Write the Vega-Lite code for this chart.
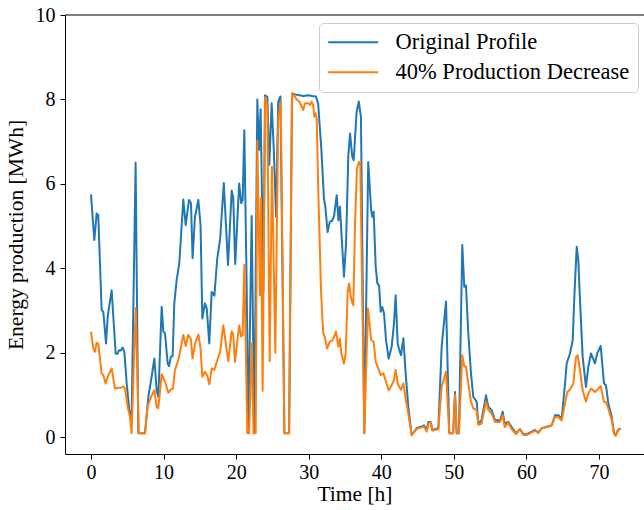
{
  "$schema": "https://vega.github.io/schema/vega-lite/v6.json",
  "width": 579,
  "height": 439,
  "autosize": {"type": "none"},
  "padding": {"left": 65, "top": 15, "right": 0, "bottom": 56},
  "background": "white",
  "config": {
    "view": {"stroke": null},
    "font": "Liberation Serif",
    "axis": {
      "grid": false,
      "domainColor": "black",
      "domainWidth": 1,
      "tickColor": "black",
      "tickWidth": 1,
      "tickSize": 5,
      "labelFont": "Liberation Serif",
      "labelFontSize": 20,
      "labelColor": "black",
      "labelFlush": false,
      "labelOverlap": false,
      "titleFont": "Liberation Serif",
      "titleFontSize": 21.5,
      "titleFontWeight": "normal",
      "titleColor": "black"
    }
  },
  "datasets": {
    "orig": [
      {"t": 0, "v": 5.75}, {"t": 0.46, "v": 4.67}, {"t": 0.78, "v": 5.3}, {"t": 1.0, "v": 5.26},
      {"t": 1.47, "v": 3.01}, {"t": 1.7, "v": 2.97}, {"t": 2.07, "v": 2.22}, {"t": 2.3, "v": 2.85},
      {"t": 2.85, "v": 3.48}, {"t": 3.4, "v": 1.98}, {"t": 3.63, "v": 1.97}, {"t": 3.86, "v": 2.06},
      {"t": 4.1, "v": 2.05}, {"t": 4.37, "v": 2.12}, {"t": 4.6, "v": 2.02}, {"t": 4.92, "v": 1.27},
      {"t": 5.28, "v": 0.64}, {"t": 5.6, "v": 0.48}, {"t": 6.15, "v": 6.5}, {"t": 6.52, "v": 0.09},
      {"t": 7.44, "v": 0.09}, {"t": 7.9, "v": 0.95}, {"t": 8.36, "v": 1.43}, {"t": 8.73, "v": 1.86},
      {"t": 9.05, "v": 1.11}, {"t": 9.28, "v": 0.95}, {"t": 9.74, "v": 3.09}, {"t": 9.97, "v": 2.5},
      {"t": 10.2, "v": 2.46}, {"t": 10.56, "v": 1.75}, {"t": 10.75, "v": 1.68}, {"t": 11.0, "v": 1.9},
      {"t": 11.25, "v": 1.92}, {"t": 11.48, "v": 3.17}, {"t": 11.8, "v": 3.72}, {"t": 12.17, "v": 4.12},
      {"t": 12.72, "v": 5.63}, {"t": 13.05, "v": 5.02}, {"t": 13.5, "v": 5.62}, {"t": 13.78, "v": 5.54},
      {"t": 14.0, "v": 4.24}, {"t": 14.33, "v": 5.22}, {"t": 14.79, "v": 5.62}, {"t": 15.1, "v": 5.02},
      {"t": 15.34, "v": 2.81}, {"t": 15.7, "v": 3.17}, {"t": 15.95, "v": 3.05}, {"t": 16.3, "v": 2.22},
      {"t": 16.63, "v": 3.44}, {"t": 17.0, "v": 3.35}, {"t": 17.4, "v": 4.23}, {"t": 17.8, "v": 4.7},
      {"t": 18.3, "v": 6.02}, {"t": 18.88, "v": 4.08}, {"t": 19.39, "v": 5.84}, {"t": 19.6, "v": 5.68},
      {"t": 19.87, "v": 4.1}, {"t": 20.42, "v": 6.01}, {"t": 20.7, "v": 5.54}, {"t": 20.9, "v": 5.62},
      {"t": 21.13, "v": 7.27}, {"t": 21.45, "v": 3.6}, {"t": 21.68, "v": 0.11}, {"t": 22.14, "v": 5.24},
      {"t": 22.5, "v": 0.11}, {"t": 22.92, "v": 8.0}, {"t": 23.15, "v": 6.8}, {"t": 23.38, "v": 7.77},
      {"t": 23.75, "v": 3.44}, {"t": 23.98, "v": 8.1}, {"t": 24.3, "v": 8.06}, {"t": 24.57, "v": 6.45},
      {"t": 24.9, "v": 7.91}, {"t": 25.2, "v": 6.76}, {"t": 25.5, "v": 5.22}, {"t": 25.8, "v": 7.95},
      {"t": 26.1, "v": 8.07}, {"t": 26.65, "v": 0.09}, {"t": 27.3, "v": 0.09}, {"t": 27.7, "v": 8.14},
      {"t": 28.1, "v": 8.12}, {"t": 28.7, "v": 8.1}, {"t": 29.3, "v": 8.08}, {"t": 29.9, "v": 8.1},
      {"t": 30.5, "v": 8.08}, {"t": 31.0, "v": 8.07}, {"t": 31.3, "v": 7.9}, {"t": 31.75, "v": 6.8},
      {"t": 32.1, "v": 5.65}, {"t": 32.3, "v": 5.45}, {"t": 32.6, "v": 4.86}, {"t": 32.9, "v": 5.1},
      {"t": 33.2, "v": 5.12}, {"t": 33.5, "v": 5.24}, {"t": 33.86, "v": 5.73}, {"t": 34.1, "v": 5.14},
      {"t": 34.3, "v": 5.46}, {"t": 34.86, "v": 3.8}, {"t": 35.15, "v": 4.6}, {"t": 35.46, "v": 6.68},
      {"t": 35.7, "v": 7.19}, {"t": 36.0, "v": 6.64}, {"t": 36.2, "v": 6.56}, {"t": 36.6, "v": 7.7},
      {"t": 36.9, "v": 7.95}, {"t": 37.2, "v": 7.58}, {"t": 37.66, "v": 0.09}, {"t": 38.2, "v": 6.52},
      {"t": 38.6, "v": 5.38}, {"t": 38.76, "v": 5.22}, {"t": 38.95, "v": 5.34}, {"t": 39.23, "v": 4.04},
      {"t": 39.46, "v": 3.64}, {"t": 39.7, "v": 3.59}, {"t": 39.92, "v": 2.97}, {"t": 40.14, "v": 3.08},
      {"t": 40.38, "v": 2.93}, {"t": 40.65, "v": 2.3}, {"t": 41.02, "v": 1.86}, {"t": 41.43, "v": 2.14},
      {"t": 41.75, "v": 2.69}, {"t": 41.98, "v": 3.36}, {"t": 42.26, "v": 2.22}, {"t": 42.49, "v": 2.06},
      {"t": 42.72, "v": 1.94}, {"t": 43.04, "v": 2.34}, {"t": 43.36, "v": 1.51}, {"t": 43.72, "v": 0.72},
      {"t": 44.19, "v": 0.05}, {"t": 44.88, "v": 0.21}, {"t": 45.57, "v": 0.25}, {"t": 45.89, "v": 0.28},
      {"t": 46.26, "v": 0.17}, {"t": 46.48, "v": 0.36}, {"t": 46.8, "v": 0.36}, {"t": 47.03, "v": 0.17},
      {"t": 47.86, "v": 0.21}, {"t": 48.32, "v": 2.14}, {"t": 48.92, "v": 3.21}, {"t": 49.37, "v": 0.09},
      {"t": 49.9, "v": 0.09}, {"t": 50.16, "v": 1.07}, {"t": 50.39, "v": 0.09}, {"t": 50.7, "v": 0.09},
      {"t": 51.16, "v": 4.55}, {"t": 51.44, "v": 3.56}, {"t": 51.67, "v": 3.59}, {"t": 51.99, "v": 2.46},
      {"t": 52.36, "v": 1.51}, {"t": 52.68, "v": 0.95}, {"t": 53.14, "v": 0.84}, {"t": 53.37, "v": 0.32},
      {"t": 53.82, "v": 0.4}, {"t": 54.43, "v": 0.99}, {"t": 54.75, "v": 0.72}, {"t": 55.2, "v": 0.64},
      {"t": 55.67, "v": 0.4}, {"t": 56.36, "v": 0.4}, {"t": 56.73, "v": 0.6}, {"t": 57.0, "v": 0.32},
      {"t": 57.5, "v": 0.36}, {"t": 57.96, "v": 0.24}, {"t": 58.56, "v": 0.09}, {"t": 59.1, "v": 0.19},
      {"t": 59.57, "v": 0.07}, {"t": 60.03, "v": 0.07}, {"t": 60.73, "v": 0.13}, {"t": 61.19, "v": 0.17},
      {"t": 61.64, "v": 0.11}, {"t": 62.1, "v": 0.21}, {"t": 62.79, "v": 0.24}, {"t": 63.49, "v": 0.28},
      {"t": 63.94, "v": 0.52}, {"t": 64.4, "v": 0.52}, {"t": 64.86, "v": 0.44}, {"t": 65.32, "v": 1.27},
      {"t": 65.55, "v": 1.75}, {"t": 66.0, "v": 1.98}, {"t": 66.38, "v": 2.3}, {"t": 66.6, "v": 3.32},
      {"t": 66.93, "v": 4.51}, {"t": 67.15, "v": 4.19}, {"t": 67.38, "v": 3.25}, {"t": 67.75, "v": 1.9},
      {"t": 68.2, "v": 1.19}, {"t": 68.53, "v": 1.67}, {"t": 68.9, "v": 1.98}, {"t": 69.45, "v": 1.75},
      {"t": 69.75, "v": 1.98}, {"t": 70.23, "v": 2.16}, {"t": 70.69, "v": 1.27}, {"t": 70.96, "v": 1.23},
      {"t": 71.28, "v": 0.8}, {"t": 71.75, "v": 0.48}, {"t": 72.07, "v": 0.09}, {"t": 72.3, "v": 0.05},
      {"t": 72.67, "v": 0.18}, {"t": 73.0, "v": 0.19}
    ],
    "dec": [
      {"t": 0, "v": 2.5}, {"t": 0.32, "v": 2.1}, {"t": 0.55, "v": 2.02}, {"t": 0.78, "v": 2.23},
      {"t": 1.0, "v": 2.22}, {"t": 1.47, "v": 1.51}, {"t": 1.7, "v": 1.47}, {"t": 2.02, "v": 1.27},
      {"t": 2.3, "v": 1.43}, {"t": 2.85, "v": 1.63}, {"t": 3.3, "v": 1.15}, {"t": 3.77, "v": 1.17},
      {"t": 4.2, "v": 1.17}, {"t": 4.45, "v": 1.2}, {"t": 4.7, "v": 1.15}, {"t": 5.05, "v": 0.72},
      {"t": 5.37, "v": 0.48}, {"t": 5.6, "v": 0.09}, {"t": 6.15, "v": 3.05}, {"t": 6.6, "v": 0.09},
      {"t": 7.44, "v": 0.09}, {"t": 7.8, "v": 0.72}, {"t": 8.27, "v": 0.95}, {"t": 8.73, "v": 1.11},
      {"t": 9.05, "v": 0.72}, {"t": 9.28, "v": 0.68}, {"t": 9.74, "v": 1.49}, {"t": 10.2, "v": 1.31},
      {"t": 10.66, "v": 1.05}, {"t": 11.0, "v": 1.13}, {"t": 11.3, "v": 1.15}, {"t": 11.57, "v": 1.59},
      {"t": 12.03, "v": 1.82}, {"t": 12.72, "v": 2.42}, {"t": 13.05, "v": 2.16}, {"t": 13.4, "v": 2.42},
      {"t": 13.75, "v": 2.33}, {"t": 14.0, "v": 1.86}, {"t": 14.33, "v": 2.21}, {"t": 14.8, "v": 2.43},
      {"t": 15.1, "v": 2.1}, {"t": 15.34, "v": 1.43}, {"t": 15.7, "v": 1.55}, {"t": 16.0, "v": 1.47},
      {"t": 16.3, "v": 1.25}, {"t": 16.63, "v": 1.63}, {"t": 17.0, "v": 1.59}, {"t": 17.4, "v": 1.82},
      {"t": 17.8, "v": 2.02}, {"t": 18.23, "v": 2.65}, {"t": 18.92, "v": 1.8}, {"t": 19.39, "v": 2.51},
      {"t": 19.6, "v": 2.43}, {"t": 19.84, "v": 1.78}, {"t": 20.42, "v": 2.65}, {"t": 20.7, "v": 2.38},
      {"t": 20.9, "v": 2.42}, {"t": 21.13, "v": 4.08}, {"t": 21.54, "v": 0.09}, {"t": 21.8, "v": 0.09},
      {"t": 22.14, "v": 2.22}, {"t": 22.4, "v": 0.09}, {"t": 22.7, "v": 0.09}, {"t": 22.92, "v": 7.02},
      {"t": 23.29, "v": 3.36}, {"t": 23.43, "v": 5.66}, {"t": 23.65, "v": 1.09}, {"t": 24.0, "v": 8.05},
      {"t": 24.3, "v": 7.85}, {"t": 24.62, "v": 1.8}, {"t": 24.94, "v": 6.4}, {"t": 25.4, "v": 2.0},
      {"t": 25.8, "v": 7.5}, {"t": 26.15, "v": 7.95}, {"t": 26.65, "v": 0.09}, {"t": 27.3, "v": 0.09},
      {"t": 27.7, "v": 8.14}, {"t": 28.1, "v": 8.06}, {"t": 28.4, "v": 7.99}, {"t": 28.7, "v": 7.95},
      {"t": 29.25, "v": 7.75}, {"t": 29.5, "v": 7.91}, {"t": 29.95, "v": 7.91}, {"t": 30.2, "v": 7.87},
      {"t": 30.4, "v": 7.95}, {"t": 30.6, "v": 7.87}, {"t": 30.77, "v": 7.59}, {"t": 30.95, "v": 7.67},
      {"t": 31.1, "v": 7.55}, {"t": 31.3, "v": 5.97}, {"t": 31.7, "v": 3.44}, {"t": 32.0, "v": 2.46},
      {"t": 32.2, "v": 2.38}, {"t": 32.55, "v": 2.1}, {"t": 32.9, "v": 2.26}, {"t": 33.3, "v": 2.3},
      {"t": 33.76, "v": 2.5}, {"t": 34.1, "v": 2.14}, {"t": 34.3, "v": 2.33}, {"t": 34.5, "v": 1.98},
      {"t": 34.86, "v": 1.74}, {"t": 35.1, "v": 1.98}, {"t": 35.37, "v": 3.44}, {"t": 35.56, "v": 3.64},
      {"t": 35.84, "v": 3.28}, {"t": 36.15, "v": 3.12}, {"t": 36.38, "v": 5.02}, {"t": 36.65, "v": 6.37},
      {"t": 36.93, "v": 6.52}, {"t": 37.1, "v": 6.5}, {"t": 37.66, "v": 0.09}, {"t": 38.17, "v": 3.05},
      {"t": 38.6, "v": 2.3}, {"t": 38.95, "v": 2.26}, {"t": 39.23, "v": 1.78}, {"t": 39.6, "v": 1.63},
      {"t": 39.92, "v": 1.47}, {"t": 40.3, "v": 1.51}, {"t": 40.65, "v": 1.31}, {"t": 41.02, "v": 1.11},
      {"t": 41.43, "v": 1.23}, {"t": 41.75, "v": 1.35}, {"t": 41.98, "v": 1.59}, {"t": 42.26, "v": 1.27},
      {"t": 42.49, "v": 1.19}, {"t": 42.72, "v": 1.12}, {"t": 43.04, "v": 1.27}, {"t": 43.36, "v": 0.92},
      {"t": 43.72, "v": 0.56}, {"t": 44.19, "v": 0.05}, {"t": 44.88, "v": 0.19}, {"t": 45.57, "v": 0.23},
      {"t": 45.89, "v": 0.25}, {"t": 46.26, "v": 0.13}, {"t": 46.55, "v": 0.34}, {"t": 46.8, "v": 0.34},
      {"t": 47.03, "v": 0.15}, {"t": 47.86, "v": 0.19}, {"t": 48.32, "v": 1.19}, {"t": 48.92, "v": 1.55},
      {"t": 49.37, "v": 0.09}, {"t": 49.9, "v": 0.09}, {"t": 50.16, "v": 1.0}, {"t": 50.39, "v": 0.09},
      {"t": 50.7, "v": 0.09}, {"t": 51.16, "v": 1.94}, {"t": 51.44, "v": 1.67}, {"t": 51.67, "v": 1.67},
      {"t": 51.99, "v": 1.27}, {"t": 52.36, "v": 0.84}, {"t": 52.68, "v": 0.68}, {"t": 53.14, "v": 0.64},
      {"t": 53.37, "v": 0.29}, {"t": 53.82, "v": 0.32}, {"t": 54.43, "v": 0.84}, {"t": 54.75, "v": 0.64},
      {"t": 55.2, "v": 0.56}, {"t": 55.67, "v": 0.36}, {"t": 56.36, "v": 0.36}, {"t": 56.73, "v": 0.52},
      {"t": 57.0, "v": 0.24}, {"t": 57.5, "v": 0.34}, {"t": 57.96, "v": 0.19}, {"t": 58.56, "v": 0.07},
      {"t": 59.1, "v": 0.19}, {"t": 59.57, "v": 0.05}, {"t": 60.03, "v": 0.05}, {"t": 60.73, "v": 0.11},
      {"t": 61.19, "v": 0.15}, {"t": 61.64, "v": 0.09}, {"t": 62.1, "v": 0.21}, {"t": 62.79, "v": 0.24},
      {"t": 63.49, "v": 0.28}, {"t": 63.94, "v": 0.48}, {"t": 64.4, "v": 0.47}, {"t": 64.86, "v": 0.39},
      {"t": 65.32, "v": 0.8}, {"t": 65.64, "v": 1.07}, {"t": 66.0, "v": 1.12}, {"t": 66.46, "v": 1.27},
      {"t": 66.83, "v": 1.9}, {"t": 67.06, "v": 1.94}, {"t": 67.38, "v": 1.59}, {"t": 67.75, "v": 1.11},
      {"t": 68.2, "v": 0.84}, {"t": 68.53, "v": 1.03}, {"t": 68.9, "v": 1.15}, {"t": 69.45, "v": 1.07},
      {"t": 69.75, "v": 1.12}, {"t": 70.23, "v": 1.21}, {"t": 70.69, "v": 0.84}, {"t": 70.96, "v": 0.82},
      {"t": 71.28, "v": 0.68}, {"t": 71.75, "v": 0.4}, {"t": 72.07, "v": 0.07}, {"t": 72.3, "v": 0.03},
      {"t": 72.67, "v": 0.18}, {"t": 73.0, "v": 0.19}
    ],
    "spine": [{"top": 10}]
  },
  "encoding": {
    "x": {
      "field": "t", "type": "quantitative",
      "scale": {"domain": [-3.58, 76.2], "nice": false, "zero": false},
      "axis": {"values": [0, 10, 20, 30, 40, 50, 60, 70], "title": "Time [h]", "labelPadding": 3, "titlePadding": 1}
    },
    "y": {
      "field": "v", "type": "quantitative",
      "scale": {"domain": [-0.4, 10], "nice": false, "zero": false},
      "axis": {"values": [0, 2, 4, 6, 8, 10], "title": "Energy production [MWh]", "labelPadding": 5, "titlePadding": 8}
    }
  },
  "layer": [
    {
      "data": {"name": "orig"},
      "mark": {"type": "line", "strokeWidth": 2, "strokeJoin": "round"},
      "encoding": {
        "color": {
          "datum": "Original Profile", "type": "nominal",
          "scale": {"domain": ["Original Profile", "40% Production Decrease"], "range": ["#1f77b4", "#ff7f0e"]},
          "legend": {
            "title": null, "orient": "none", "legendX": 254, "legendY": 8,
            "padding": 8, "strokeColor": "#cccccc", "cornerRadius": 4, "fillColor": "rgba(255,255,255,0.8)",
            "symbolType": "M-1,0H4", "symbolSize": 400, "symbolStrokeWidth": 2,
            "labelFont": "Liberation Serif", "labelFontSize": 22.5, "labelColor": "black", "labelOffset": 46,
            "labelLimit": 400, "rowPadding": 7
          }
        }
      }
    },
    {
      "data": {"name": "dec"},
      "mark": {"type": "line", "strokeWidth": 2, "strokeJoin": "round"},
      "encoding": {"color": {"datum": "40% Production Decrease", "type": "nominal"}}
    },
    {
      "data": {"name": "spine"},
      "mark": {"type": "rule", "color": "black", "strokeWidth": 1},
      "encoding": {"y": {"field": "top", "type": "quantitative"}, "x": null}
    }
  ]
}
